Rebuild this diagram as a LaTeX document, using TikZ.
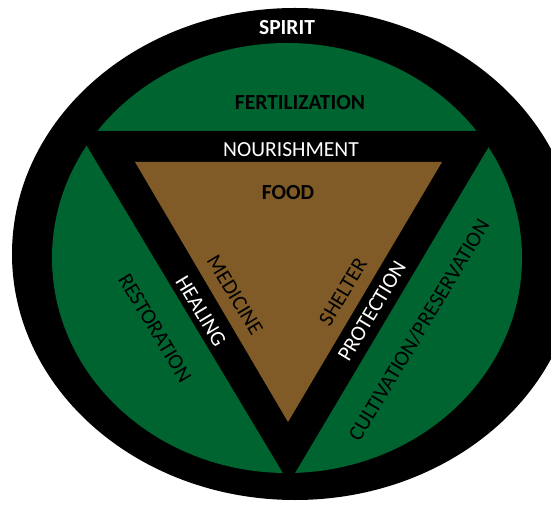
\documentclass[tikz,border=0pt]{standalone}
\usepackage{fontspec}
\setmainfont{Carlito}
\definecolor{leafgreen}{RGB}{0,100,48}
\definecolor{earthbrown}{RGB}{128,91,40}
\tikzset{
  lbl/.style={inner sep=0pt, font=\fontsize{21.5}{24}\selectfont},
  blbl/.style={lbl, font=\fontsize{21.5}{24}\selectfont\bfseries},
}
\begin{document}
\begin{tikzpicture}[x=1pt,y=-1pt]
\useasboundingbox (0,0) rectangle (551,510);
\clip (0,0) rectangle (551,510);
% outer ring
\fill[black] (295,254) ellipse [x radius=283pt, y radius=246pt];
% green disc
\fill[leafgreen] (287,258) ellipse [x radius=235pt, y radius=215pt];
% black triangle band
\fill[black] (78,131) -- (498,131) -- (289,483) -- cycle;
% brown triangle
\fill[earthbrown] (135,162) -- (442,162) -- (288,422) -- cycle;
% labels
\node[blbl, text=white] (spirit) at (287,28) {SPIRIT};
\node[blbl, text=black] (fert) at (300,103) {FERTILIZATION};
\node[lbl, text=white] (nour) at (291,150) {NOURISHMENT};
\node[blbl, text=black] (food) at (288,193) {FOOD};
\node[lbl, text=black, rotate=-59] (rest) at (155,328) {RESTORATION};
\node[lbl, text=white, rotate=-59] (heal) at (201,311) {HEALING};
\node[lbl, text=black, rotate=-59] (med) at (235,295) {MEDICINE};
\node[lbl, text=black, rotate=59] (shel) at (343,292) {SHELTER};
\node[lbl, text=white, rotate=59] (prot) at (372,311) {PROTECTION};
\node[lbl, text=black, rotate=59] (cult) at (419,330) {CULTIVATION/PRESERVATION};
\end{tikzpicture}
\end{document}
